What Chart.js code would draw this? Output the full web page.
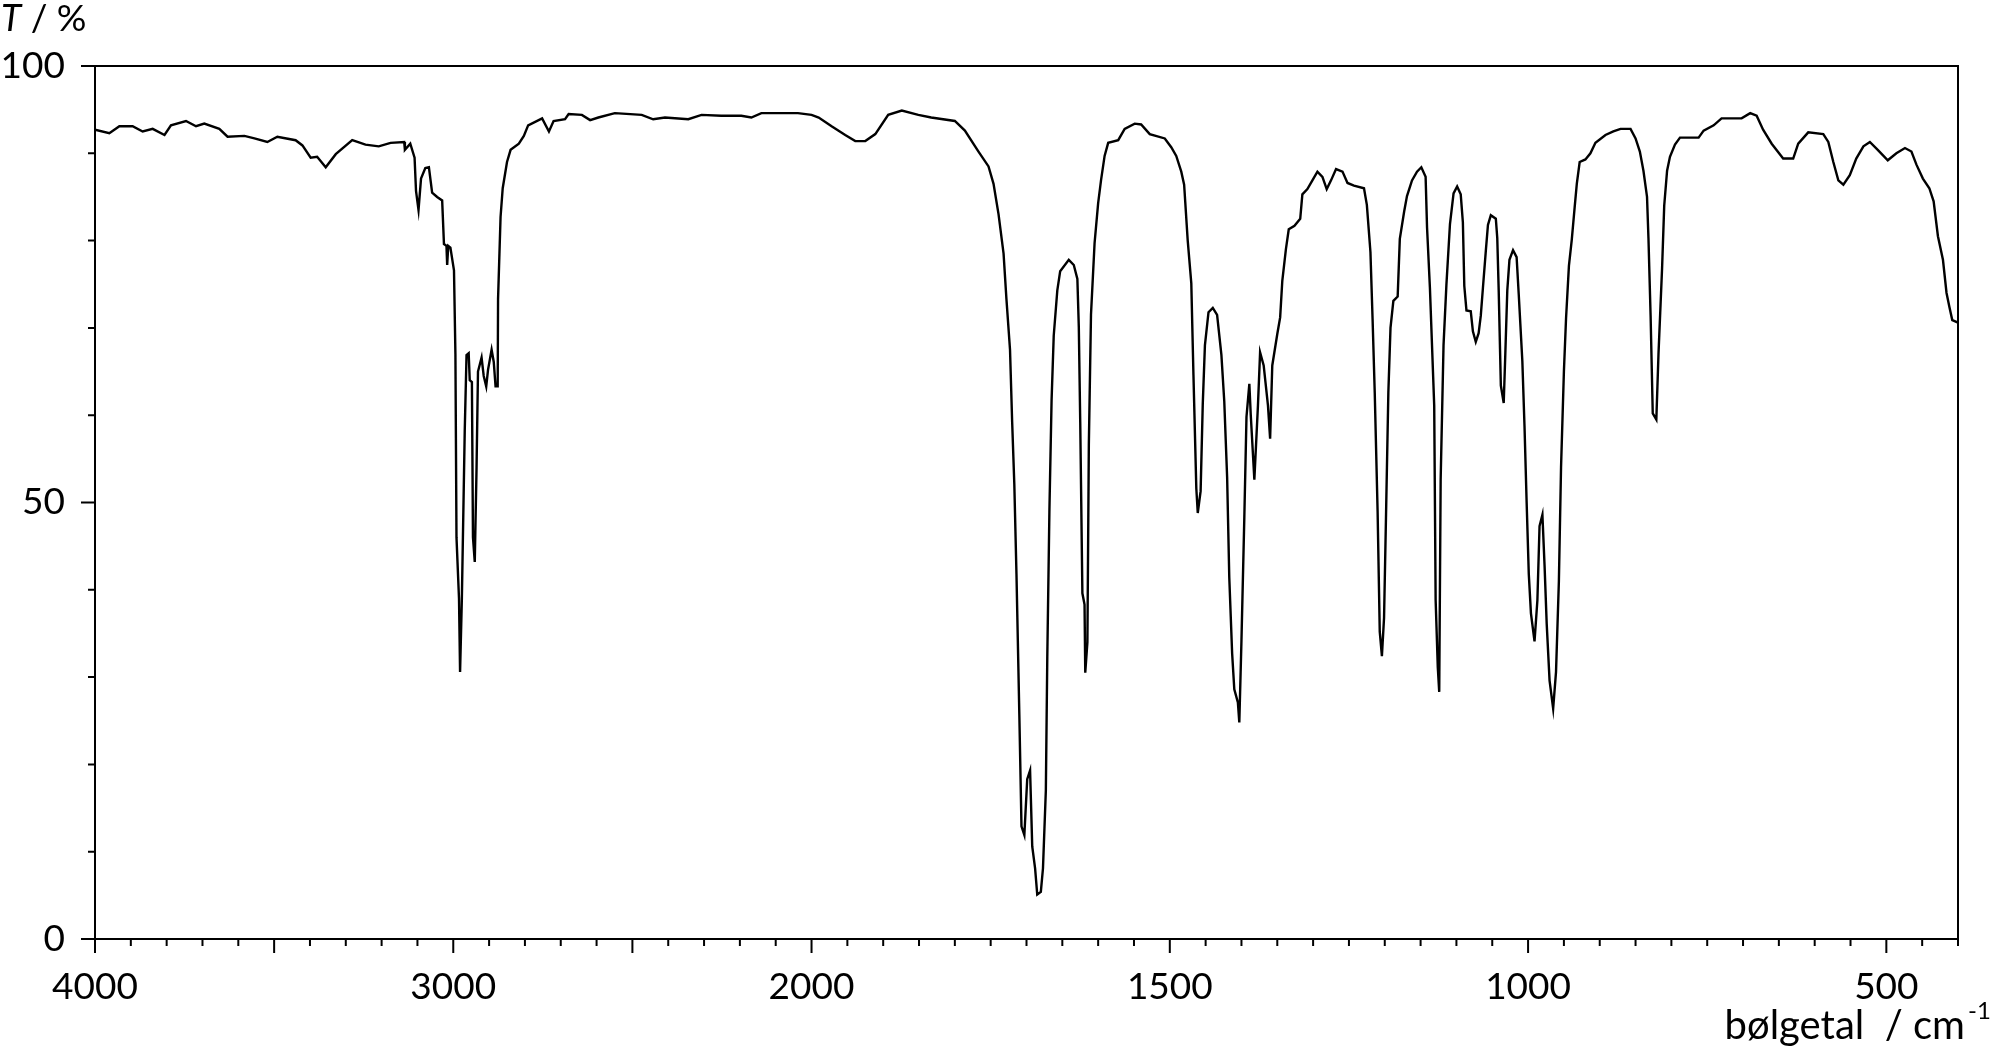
<!DOCTYPE html>
<html>
<head>
<meta charset="utf-8">
<title>IR-spektrum</title>
<script src="https://cdn.jsdelivr.net/npm/chart.js"></script>
<style>
  html, body { margin: 0; padding: 0; background: #fff; }
  #wrap { width: 1994px; height: 1047px; position: relative; }
</style>
</head>
<body>
<div id="wrap"><canvas id="irChart"></canvas></div>
<script>
// bølgetal (cm-1) og transmittans (%) aflæst fra spektret
const wavenumbers = [
  4000, 3960, 3932, 3895, 3867, 3839, 3806, 3788, 3746, 3718, 3695, 3653, 3630, 3583, 3555, 3519,
  3491, 3440, 3421, 3398, 3380, 3356, 3328, 3282, 3245, 3208, 3175, 3137, 3135, 3120, 3108, 3104,
  3097, 3096, 3090, 3078, 3068, 3059, 3045, 3031, 3026, 3019, 3017, 3014, 3008, 2998, 2994, 2991,
  2984, 2981, 2976, 2968, 2963, 2957, 2954, 2948, 2945, 2940, 2935, 2931, 2921, 2915, 2908, 2903,
  2893, 2887, 2882, 2876, 2875, 2868, 2862, 2850, 2840, 2817, 2803, 2791, 2752, 2733, 2720, 2688,
  2678, 2641, 2618, 2595, 2549, 2474, 2442, 2409, 2344, 2307, 2252, 2196, 2168, 2140, 2094, 2038,
  2000, 1990, 1972, 1953, 1939, 1925, 1911, 1893, 1874, 1851, 1833, 1800, 1786, 1767, 1753, 1746,
  1739, 1732, 1728, 1723, 1720, 1717, 1714, 1710, 1707, 1703, 1699, 1695, 1692, 1688, 1685, 1680,
  1677, 1673, 1671, 1668, 1665, 1662, 1657, 1653, 1641, 1634, 1629, 1627, 1625, 1622, 1619, 1618,
  1615, 1613, 1610, 1605, 1600, 1596, 1591, 1586, 1572, 1563, 1549, 1540, 1528, 1507, 1498, 1491,
  1484, 1480, 1475, 1470, 1467, 1463, 1461, 1457, 1454, 1451, 1446, 1440, 1434, 1428, 1424, 1420,
  1417, 1413, 1410, 1405, 1403, 1400, 1396, 1393, 1389, 1387, 1382, 1377, 1374, 1369, 1363, 1360,
  1357, 1350, 1346, 1343, 1338, 1334, 1326, 1318, 1315, 1308, 1301, 1294, 1287, 1281, 1275, 1268,
  1259, 1252, 1243, 1229, 1225, 1220, 1217, 1214, 1210, 1207, 1204, 1201, 1198, 1195, 1192, 1188,
  1182, 1179, 1173, 1169, 1162, 1155, 1149, 1143, 1141, 1137, 1131, 1129, 1126, 1124, 1122, 1118,
  1114, 1109, 1104, 1099, 1094, 1091, 1089, 1086, 1080, 1077, 1073, 1069, 1066, 1063, 1059, 1056,
  1052, 1045, 1043, 1041, 1038, 1034, 1032, 1029, 1026, 1021, 1016, 1013, 1008, 1005, 1002, 999,
  996, 991, 987, 984, 980, 977, 974, 970, 965, 961, 957, 954, 950, 947, 943, 939,
  935, 932, 928, 920, 913, 906, 892, 881, 871, 857, 850, 844, 839, 834, 832, 829,
  826, 821, 818, 813, 810, 806, 802, 795, 788, 762, 755, 741, 730, 702, 690, 681,
  672, 660, 644, 630, 623, 609, 588, 581, 574, 567, 560, 551, 542, 532, 523, 512,
  498, 486, 474, 465, 458, 449, 440, 434, 428, 421, 416, 412, 408, 400
];
const transmittance = [
  92.7, 92.3, 93.1, 93.1, 92.5, 92.8, 92.1, 93.2, 93.7, 93.1, 93.4, 92.8, 91.9, 92.0, 91.7, 91.3,
  91.9, 91.5, 90.9, 89.5, 89.6, 88.4, 89.9, 91.5, 91.0, 90.8, 91.2, 91.3, 90.4, 91.1, 89.5, 85.7,
  83.5, 83.5, 87.1, 88.3, 88.4, 85.5, 85.0, 84.6, 79.6, 79.4, 77.2, 79.4, 79.2, 76.6, 67.0, 46.0,
  39.0, 30.6, 39.0, 58.2, 66.9, 67.1, 64.0, 63.8, 46.0, 43.2, 54.0, 65.0, 66.6, 64.5, 63.3, 65.2,
  67.5, 66.1, 63.3, 63.3, 73.3, 82.7, 86.0, 89.0, 90.4, 91.1, 92.0, 93.2, 94.0, 92.5, 93.7, 93.9,
  94.5, 94.4, 93.8, 94.1, 94.6, 94.4, 93.9, 94.1, 93.9, 94.4, 94.3, 94.3, 94.1, 94.6, 94.6, 94.6,
  94.4, 94.1, 93.1, 92.1, 91.4, 91.4, 92.2, 94.4, 94.9, 94.4, 94.1, 93.7, 92.6, 90.2, 88.5, 86.5,
  83.0, 78.5, 73.3, 67.5, 59.2, 52.1, 41.8, 25.7, 12.9, 11.9, 18.3, 19.3, 10.6, 8.1, 5.1, 5.4,
  8.1, 17.0, 32.2, 49.2, 61.7, 69.1, 74.3, 76.5, 77.8, 77.2, 75.6, 70.1, 59.2, 39.6, 38.3, 30.5,
  34.0, 56.6, 71.5, 79.7, 84.3, 86.9, 89.7, 91.2, 91.5, 92.8, 93.4, 93.3, 92.2, 91.7, 90.7, 89.7,
  87.9, 86.4, 80.0, 75.1, 64.6, 51.6, 48.8, 51.3, 61.3, 68.0, 71.8, 72.3, 71.5, 66.9, 61.6, 52.9,
  41.4, 32.7, 28.6, 27.1, 24.8, 34.2, 48.3, 59.8, 63.6, 60.0, 52.6, 61.1, 67.2, 65.7, 61.1, 57.3,
  65.7, 69.3, 71.2, 75.4, 79.0, 81.3, 81.7, 82.5, 85.3, 85.9, 86.9, 87.9, 87.3, 85.9, 86.9, 88.2,
  87.9, 86.6, 86.3, 86.0, 84.1, 78.7, 71.0, 62.6, 49.0, 35.2, 32.4, 36.8, 49.6, 62.6, 70.0, 73.1,
  73.6, 80.2, 83.3, 85.1, 86.9, 87.9, 88.4, 87.3, 81.5, 74.6, 61.1, 38.8, 31.1, 28.3, 52.6, 68.0,
  74.9, 81.9, 85.4, 86.2, 85.3, 82.1, 74.8, 72.0, 71.9, 69.6, 68.4, 69.4, 71.4, 74.6, 78.8, 81.8,
  82.9, 82.5, 80.3, 74.3, 63.4, 61.4, 66.4, 74.3, 77.8, 78.9, 78.1, 73.8, 66.2, 58.8, 50.0, 41.8,
  37.3, 34.1, 38.8, 47.3, 48.6, 42.8, 36.1, 29.6, 26.4, 30.6, 41.0, 54.0, 65.0, 71.1, 77.1, 80.1,
  83.8, 86.5, 89.0, 89.3, 90.0, 91.2, 92.1, 92.5, 92.8, 92.8, 91.7, 90.2, 88.0, 85.0, 80.3, 71.4,
  60.2, 59.5, 67.0, 76.8, 84.0, 88.0, 89.6, 91.0, 91.8, 91.8, 92.6, 93.2, 94.0, 94.0, 94.6, 94.3,
  92.7, 91.1, 89.4, 89.4, 91.1, 92.4, 92.2, 91.3, 89.0, 86.9, 86.4, 87.5, 89.4, 90.8, 91.3, 90.4,
  89.2, 90.0, 90.6, 90.2, 88.7, 87.1, 86.0, 84.5, 80.5, 77.8, 74.0, 72.4, 70.9, 70.6
];
const xLabelValues = [4000, 3000, 2000, 1500, 1000, 500];
const yLabelValues = [0, 50, 100];
const yTitle = ['T', ' / %'];
const xTitle = ['bølgetal  / cm', '-1'];

// x-aksen er knækket ved 2000: over 2000 er skalaen halveret
const BREAK = 2000;
function toAxis(w) { return w >= BREAK ? (4000 - w) / 2 : 1000 + (BREAK - w); }
function fromAxis(u) { return u <= 1000 ? 4000 - 2 * u : BREAK - (u - 1000); }

const FONT = 'Lato';
const INK = '#000';

// ramme, skalastreger og aksetitler
const frameTicks = {
  id: 'frameTicks',
  afterDraw(chart) {
    const { ctx, chartArea: a, scales: { x, y } } = chart;
    ctx.save();
    ctx.strokeStyle = INK;
    ctx.lineWidth = 2;
    ctx.beginPath();
    ctx.moveTo(a.left, a.top);
    ctx.lineTo(a.right, a.top);
    ctx.lineTo(a.right, a.bottom);
    for (let u = 0; u <= toAxis(400); u += 50) {
      const long = u <= 1000 ? u % 250 === 0 : u % 500 === 0;
      const px = x.getPixelForValue(u);
      ctx.moveTo(px, a.bottom);
      ctx.lineTo(px, a.bottom + (long ? 14 : 7));
    }
    for (let t = 0; t <= 100; t += 10) {
      const py = y.getPixelForValue(t);
      const long = yLabelValues.includes(t);
      ctx.moveTo(a.left, py);
      ctx.lineTo(a.left - (long ? 14 : 7), py);
    }
    ctx.stroke();

    ctx.fillStyle = INK;
    ctx.textBaseline = 'alphabetic';
    ctx.textAlign = 'left';
    ctx.font = 'italic 37px ' + FONT;
    ctx.fillText(yTitle[0], 1, 31);
    const tw = ctx.measureText(yTitle[0]).width;
    ctx.font = '37px ' + FONT;
    ctx.fillText(yTitle[1], 1 + tw, 31);

    ctx.font = '40px ' + FONT;
    ctx.textAlign = 'right';
    ctx.fillText(xTitle[0], 1965, 1039);
    ctx.textAlign = 'left';
    ctx.font = '24px ' + FONT;
    ctx.fillText(xTitle[1], 1968, 1019);
    ctx.restore();
  }
};

new Chart(document.getElementById('irChart'), {
  type: 'line',
  data: {
    datasets: [{
      data: wavenumbers.map((w, i) => ({ x: toAxis(w), y: transmittance[i] })),
      borderColor: INK,
      borderWidth: 2.4,
      pointRadius: 0,
      tension: 0,
      fill: false
    }]
  },
  options: {
    responsive: true,
    maintainAspectRatio: false,
    animation: false,
    layout: { padding: { top: 66, right: 36, bottom: 0, left: 0 } },
    plugins: { legend: { display: false }, tooltip: { enabled: false } },
    scales: {
      x: {
        type: 'linear',
        min: 0,
        max: toAxis(400),
        afterBuildTicks: s => { s.ticks = xLabelValues.map(w => ({ value: toAxis(w) })); },
        afterFit: s => { s.height = 108; },
        ticks: {
          callback: v => String(fromAxis(v)),
          autoSkip: false,
          maxRotation: 0,
          padding: 26,
          color: INK,
          font: { family: FONT, size: 37 }
        },
        grid: { display: false, drawTicks: false },
        border: { display: true, color: INK, width: 2 }
      },
      y: {
        min: 0,
        max: 100,
        afterBuildTicks: s => { s.ticks = yLabelValues.map(v => ({ value: v })); },
        afterFit: s => { s.width = 95; },
        ticks: {
          padding: 30,
          color: INK,
          font: { family: FONT, size: 37 }
        },
        grid: { display: false, drawTicks: false },
        border: { display: true, color: INK, width: 2 }
      }
    }
  },
  plugins: [frameTicks]
});
</script>
</body>
</html>
